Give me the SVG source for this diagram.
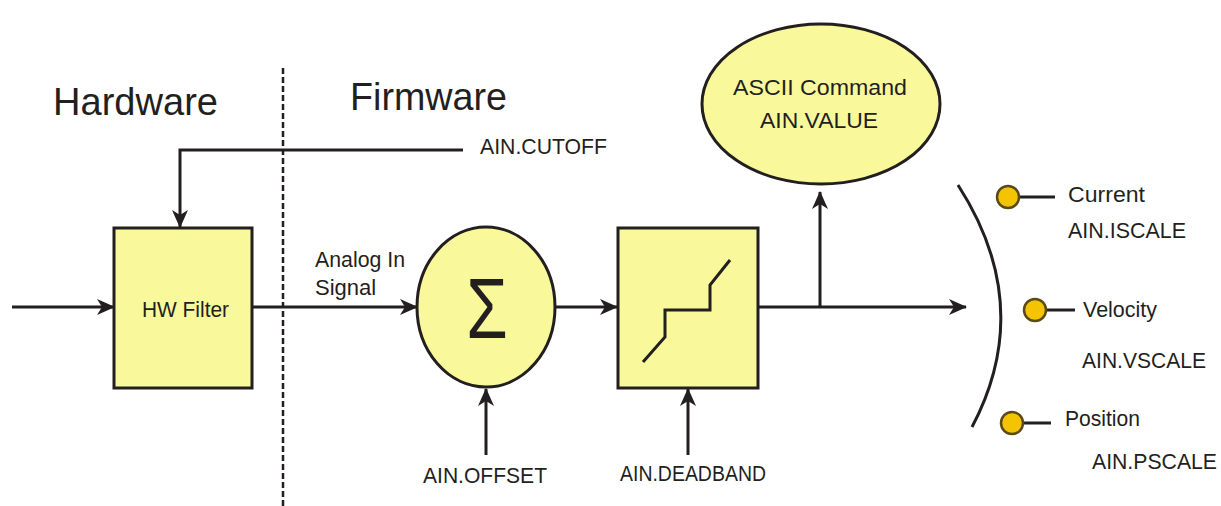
<svg xmlns="http://www.w3.org/2000/svg" width="1221" height="506" viewBox="0 0 1221 506">
<defs>
<marker id="ah" markerUnits="userSpaceOnUse" markerWidth="18" markerHeight="16" refX="17" refY="8" orient="auto">
<path d="M0,0 L18,8 L0,16 L5,8 Z" fill="#231f20"/>
</marker>
</defs>
<style>
text{font-family:"Liberation Sans",Arial,sans-serif;fill:#231f20}
.lbl{font-size:22px}
.big{font-size:39px}
.ln{stroke:#231f20;stroke-width:3;fill:none}
.arr{stroke:#231f20;stroke-width:3;fill:none;marker-end:url(#ah)}
.blk{fill:#f9f99b;stroke:#231f20;stroke-width:3}
.dot{fill:#f5c400;stroke:#5a4a1a;stroke-width:2.5}
</style>
<rect width="1221" height="506" fill="#ffffff"/>
<g id="divider">
<line x1="283" y1="68" x2="283" y2="506" stroke="#231f20" stroke-width="2.5" stroke-dasharray="6,3"/>
</g>
<g id="titles">
<text class="big" x="53" y="115" textLength="165" lengthAdjust="spacingAndGlyphs">Hardware</text>
<text class="big" x="350" y="110" textLength="157" lengthAdjust="spacingAndGlyphs">Firmware</text>
</g>
<g id="connectors">
<line class="arr" x1="12" y1="307" x2="114" y2="307"/>
<polyline class="arr" points="463,150 180,150 180,227"/>
<line class="arr" x1="252" y1="307" x2="417" y2="307"/>
<line class="arr" x1="555" y1="307" x2="617" y2="307"/>
<line class="arr" x1="758" y1="307" x2="966" y2="307"/>
<line class="arr" x1="820" y1="307" x2="820" y2="192"/>
<line class="arr" x1="486" y1="455" x2="486" y2="389"/>
<line class="arr" x1="688" y1="455" x2="688" y2="389"/>
</g>
<g id="hw-filter">
<rect class="blk" x="114" y="228" width="138" height="160"/>
<text class="lbl" x="142" y="317" textLength="87" lengthAdjust="spacingAndGlyphs">HW Filter</text>
</g>
<g id="labels">
<text class="lbl" x="480" y="154" textLength="127" lengthAdjust="spacingAndGlyphs">AIN.CUTOFF</text>
<text class="lbl" x="315" y="267" textLength="90" lengthAdjust="spacingAndGlyphs">Analog In</text>
<text class="lbl" x="315" y="295">Signal</text>
<text class="lbl" x="423" y="483" textLength="124" lengthAdjust="spacingAndGlyphs">AIN.OFFSET</text>
<text class="lbl" x="620" y="481" textLength="146" lengthAdjust="spacingAndGlyphs">AIN.DEADBAND</text>
</g>
<g id="sum">
<ellipse class="blk" cx="486" cy="307" rx="69" ry="80"/>
<text x="0" y="0" font-size="86" text-anchor="middle" transform="translate(487,338) scale(0.78,1)">Σ</text>
</g>
<g id="deadband">
<rect class="blk" x="618" y="228" width="140" height="160"/>
<polyline class="ln" points="643,362 665,337 665,310 710,310 710,285 730,260"/>
</g>
<g id="ascii">
<ellipse class="blk" cx="821" cy="104" rx="119" ry="80"/>
<text class="lbl" x="733" y="95" font-size="23" textLength="174" lengthAdjust="spacingAndGlyphs">ASCII Command</text>
<text class="lbl" x="760" y="128" font-size="23" textLength="118" lengthAdjust="spacingAndGlyphs">AIN.VALUE</text>
</g>
<g id="switch">
<path class="ln" d="M958,185 Q1036,306 972,427"/>
</g>
<g id="current">
<line class="ln" x1="1008" y1="197" x2="1055" y2="197"/>
<circle class="dot" cx="1008" cy="197" r="11"/>
<text class="lbl" x="1068" y="202" textLength="77" lengthAdjust="spacingAndGlyphs">Current</text>
<text class="lbl" x="1068" y="238" textLength="118" lengthAdjust="spacingAndGlyphs">AIN.ISCALE</text>
</g>
<g id="velocity">
<line class="ln" x1="1035" y1="310" x2="1075" y2="310"/>
<circle class="dot" cx="1035" cy="310" r="11"/>
<text class="lbl" x="1083" y="317" textLength="74" lengthAdjust="spacingAndGlyphs">Velocity</text>
<text class="lbl" x="1082" y="368" textLength="124" lengthAdjust="spacingAndGlyphs">AIN.VSCALE</text>
</g>
<g id="position">
<line class="ln" x1="1012" y1="423" x2="1051" y2="423"/>
<circle class="dot" cx="1012" cy="423" r="11"/>
<text class="lbl" x="1065" y="426" textLength="75" lengthAdjust="spacingAndGlyphs">Position</text>
<text class="lbl" x="1092" y="469" textLength="125" lengthAdjust="spacingAndGlyphs">AIN.PSCALE</text>
</g>
</svg>
